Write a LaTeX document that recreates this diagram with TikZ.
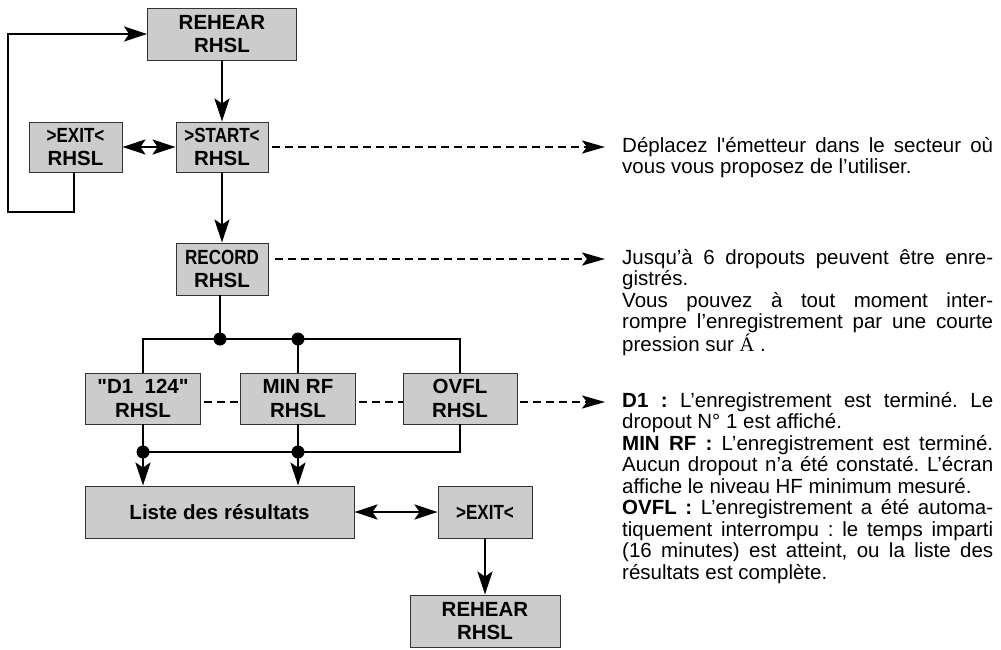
\documentclass[tikz,border=0pt]{standalone}
\usepackage{graphicx}
\usepackage{fontspec}
\setmainfont{Liberation Sans}
\newfontfamily\serifA{Liberation Serif}
\usetikzlibrary{arrows.meta}
\definecolor{boxfill}{gray}{0.8}
\definecolor{boxline}{gray}{0.2}
\tikzset{
  box/.style={draw=boxline, line width=0.9pt, fill=boxfill, align=center, inner sep=0pt,
    font=\bfseries\fontsize{20.5}{23.5}\selectfont},
  wire/.style={line width=2.5pt},
  tip/.style={},
  arr/.style={wire, -{Stealth[length=23pt,width=15pt,inset=5pt]}},
  dbl/.style={wire, {Stealth[length=23pt,width=15pt,inset=5pt]}-{Stealth[length=23pt,width=15pt,inset=5pt]}},
  dashline/.style={line width=2.2pt, dash pattern=on 8pt off 5pt},
  dasharr/.style={dashline, -{Stealth[length=23pt,width=13pt,inset=5pt]}},
  body/.style={anchor=base west, inner sep=0pt, text width=371pt, align=justify,
    font=\frenchspacing\fontsize{20.5}{21.5}\selectfont}
}
\newcommand{\cond}[1]{\scalebox{0.83}[1]{#1}}
\begin{document}
\begin{tikzpicture}[x=1pt, y=-1pt]
\useasboundingbox (0,0) rectangle (1001,649);

% boxes
\node[box, minimum width=149pt, minimum height=52pt] (rh1) at (222,34) {REHEAR\\RHSL};
\node[box, minimum width=93pt, minimum height=50pt] (exit) at (75.5,147) {\cond{>EXIT<}\\RHSL};
\node[box, minimum width=92pt, minimum height=50pt] (start) at (222,147) {\cond{>START<}\\RHSL};
\node[box, minimum width=92pt, minimum height=52pt] (rec) at (222,269) {\cond{RECORD}\\RHSL};
\node[box, minimum width=115pt, minimum height=51pt] (d1) at (143,398.5) {\textquotedbl D1\ \ 124\textquotedbl\\RHSL};
\node[box, minimum width=115pt, minimum height=51pt] (mr) at (298,398.5) {MIN RF\\RHSL};
\node[box, minimum width=114pt, minimum height=51pt] (ov) at (460,398.5) {OVFL\\RHSL};
\node[box, minimum width=269pt, minimum height=52pt] (liste) at (219.5,512) {Liste des résultats};
\node[box, minimum width=94pt, minimum height=52pt] (ex2) at (485,512) {\cond{>EXIT<}};
\node[box, minimum width=150pt, minimum height=52pt] (rh2) at (485,621) {REHEAR\\RHSL};

% helper coordinates
\coordinate (lp) at (8,212);
\coordinate (j1) at (220,339);
\coordinate (j2) at (298,339);
\coordinate (k1) at (143,452);
\coordinate (k2) at (298,452);
\coordinate (t1) at (605,147);
\coordinate (t2) at (605,259);
\coordinate (t3) at (605,402);

% solid connectors
\draw[arr] (rh1) -- (start);
\draw[dbl] (exit) -- (start);
\draw[arr] ([xshift=-1.5pt]exit.south) |- (lp) |- (rh1.west);
\draw[arr] (start) -- (rec);
\draw[wire] (rec.south -| j1) -- (j1);
\draw[wire] (d1.north) |- (j1) -- (j2) -| (ov.north);
\draw[wire] (j2) -- (mr.north);
\draw[wire] (ov.south) |- (k2) -- (k1);
\draw[arr] (d1.south) -- (d1.south |- liste.north);
\draw[arr] (mr.south) -- (mr.south |- liste.north);
\draw[dbl] (liste) -- (ex2);
\draw[arr] (ex2) -- (rh2);
\foreach \p in {j1,j2,k1,k2} \fill (\p) circle (6.5pt);

% dashed connectors
\draw[dasharr] ([xshift=4pt]start.east) -- (t1);
\draw[dasharr] ([xshift=7pt]rec.east |- t2) -- (t2);
\draw[dashline] ([xshift=3pt]d1.east |- t3) -- (mr.west |- t3);
\draw[dashline] ([xshift=3pt]mr.east |- t3) -- (ov.west |- t3);
\draw[dasharr] ([xshift=3pt]ov.east |- t3) -- (t3);

% texts
\node[body] (txt1) at (622,152) {Déplacez l\textquotesingle émetteur dans le secteur où\linebreak
vous vous proposez de l’utiliser.};
\node[body] (txt2) at (622,264) {Jusqu’à 6 dropouts peuvent être enre-\linebreak
gistrés.\\
Vous pouvez à tout moment inter-\linebreak
rompre l’enregistrement par une courte\linebreak
pression sur {\serifA Á} .};
\node[body] (txt3) at (622,407) {\textbf{D1 :} L’enregistrement est terminé. Le\linebreak
dropout N° 1 est affiché.\\
\textbf{MIN RF :} L’enregistrement est terminé.\linebreak
Aucun dropout n’a été constaté. L’écran\linebreak
affiche le niveau HF minimum mesuré.\\
\textbf{OVFL :} L’enregistrement a été automa-\linebreak
tiquement interrompu : le temps imparti\linebreak
(16 minutes) est atteint, ou la liste des\linebreak
résultats est complète.};
\end{tikzpicture}
\end{document}
